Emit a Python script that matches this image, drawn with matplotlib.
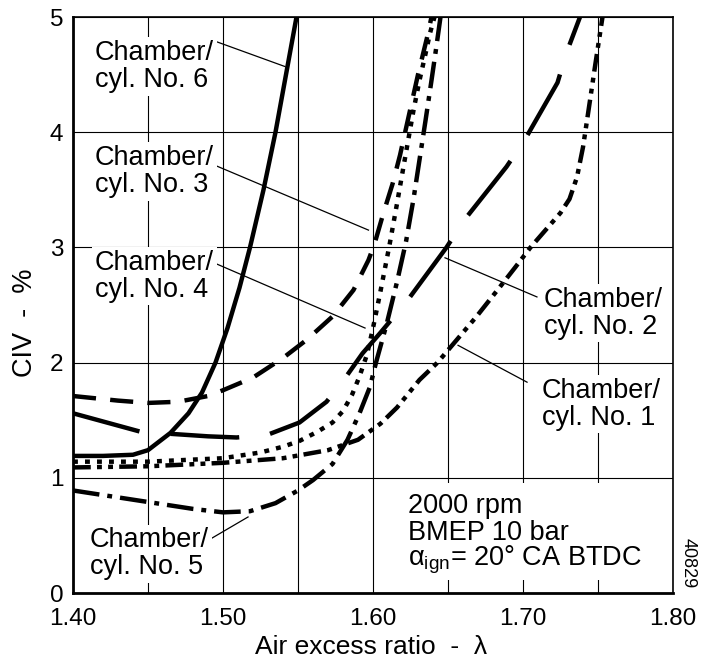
import matplotlib
matplotlib.use('Agg')
import matplotlib.pyplot as plt
from matplotlib.patches import Rectangle

plt.rcParams['font.family'] = ['Liberation Sans', 'DejaVu Sans']
plt.rcParams['mathtext.fontset'] = 'custom'
plt.rcParams['mathtext.rm'] = 'Liberation Sans'
plt.rcParams['mathtext.it'] = 'Liberation Sans:italic'

# data: air excess ratio (lambda) vs CIV (%)
lam6 = [1.40, 1.42, 1.44, 1.45, 1.465, 1.477, 1.486, 1.495, 1.503, 1.511, 1.518, 1.527, 1.535, 1.542, 1.549]
civ6 = [1.19, 1.19, 1.20, 1.24, 1.39, 1.56, 1.74, 2.00, 2.30, 2.65, 3.00, 3.50, 4.00, 4.50, 5.00]

lam3 = [1.40, 1.43, 1.45, 1.47, 1.49, 1.50, 1.52, 1.54, 1.556, 1.573, 1.587, 1.597, 1.601, 1.607, 1.613, 1.618, 1.624, 1.630, 1.636, 1.639]
civ3 = [1.71, 1.67, 1.65, 1.66, 1.71, 1.76, 1.87, 2.04, 2.20, 2.40, 2.63, 2.89, 3.03, 3.30, 3.55, 3.80, 4.15, 4.50, 4.82, 5.00]

lam4 = [1.40, 1.45, 1.50, 1.525, 1.54, 1.551, 1.563, 1.573, 1.580, 1.586, 1.591, 1.596, 1.600, 1.605, 1.611, 1.616, 1.621, 1.627, 1.631, 1.635, 1.638, 1.641]
civ4 = [1.14, 1.14, 1.17, 1.22, 1.27, 1.32, 1.40, 1.48, 1.58, 1.72, 1.88, 2.07, 2.30, 2.62, 3.02, 3.38, 3.75, 4.19, 4.45, 4.68, 4.86, 5.00]

lam2 = [1.40, 1.445, 1.467, 1.49, 1.509, 1.529, 1.551, 1.569, 1.58, 1.593, 1.605, 1.623, 1.649, 1.661, 1.689, 1.701, 1.723, 1.729, 1.738]
civ2 = [1.56, 1.40, 1.38, 1.36, 1.35, 1.37, 1.48, 1.66, 1.84, 2.08, 2.26, 2.54, 3.00, 3.24, 3.70, 3.93, 4.43, 4.69, 5.00]

lam1 = [1.40, 1.45, 1.50, 1.54, 1.57, 1.59, 1.605, 1.616, 1.631, 1.643, 1.656, 1.669, 1.683, 1.695, 1.705, 1.715, 1.725, 1.731, 1.736, 1.740, 1.743, 1.748, 1.753]
civ1 = [1.09, 1.10, 1.13, 1.17, 1.24, 1.33, 1.47, 1.61, 1.85, 2.00, 2.20, 2.40, 2.63, 2.83, 3.00, 3.15, 3.30, 3.42, 3.61, 3.87, 4.13, 4.57, 5.00]

lam5 = [1.40, 1.45, 1.48, 1.50, 1.518, 1.535, 1.55, 1.56, 1.573, 1.583, 1.591, 1.598, 1.602, 1.609, 1.616, 1.622, 1.627, 1.631, 1.635, 1.639, 1.642, 1.645]
civ5 = [0.89, 0.79, 0.73, 0.70, 0.71, 0.78, 0.89, 0.98, 1.12, 1.33, 1.56, 1.79, 2.00, 2.33, 2.70, 3.05, 3.42, 3.76, 4.10, 4.45, 4.72, 5.00]

xticks = [1.40, 1.50, 1.60, 1.70, 1.80]
xticklabels = ['1.40', '1.50', '1.60', '1.70', '1.80']
xminor = [1.45, 1.55, 1.65, 1.75]
yticks = [0, 1, 2, 3, 4, 5]

fig = plt.figure(figsize=(7.12, 6.63), dpi=100)
ax = fig.add_axes([73/712, 70/663, 600/712, 576/663])

ax.set_xlim(1.40, 1.80)
ax.set_ylim(0, 5)
ax.set_xticks(xticks)
ax.set_xticklabels(xticklabels)
ax.set_xticks(xminor, minor=True)
ax.set_yticks(yticks)
ax.set_axisbelow(True)
ax.grid(True, which='both', axis='x', color='black', lw=0.8)
ax.grid(True, which='major', axis='y', color='black', lw=0.8)
ax.tick_params(which='both', length=0)
ax.tick_params(axis='x', pad=10.5, labelsize=17.5)
ax.tick_params(axis='y', pad=7, labelsize=17.5)
for s in ['left', 'bottom']:
    ax.spines[s].set_linewidth(2.0)
for s in ['top', 'right']:
    ax.spines[s].set_linewidth(1.2)

lw = 3.2
ax.plot(lam6, civ6, color='black', lw=lw, linestyle='-', zorder=3)
ax.plot(lam3, civ3, color='black', lw=lw, linestyle=(0, (5.2, 3.2)), zorder=3)
ax.plot(lam4, civ4, color='black', lw=lw, linestyle=(0, (1.1, 1.6)), zorder=3)
ax.plot(lam2, civ2, color='black', lw=lw, linestyle=(0, (15.5, 7)), zorder=3)
ax.plot(lam1, civ1, color='black', lw=lw, linestyle=(0, (4, 1.4, 1.1, 1.4, 1.1, 1.4)), zorder=3)
ax.plot(lam5, civ5, color='black', lw=lw, linestyle=(0, (6, 1.8, 1.1, 1.8)), zorder=3)

# pointer lines
ax.plot([1.4947, 1.5413], [4.79, 4.57], color='black', lw=0.9, zorder=2.5)
ax.plot([1.4933, 1.597], [3.72, 3.15], color='black', lw=0.9, zorder=2.5)
ax.plot([1.4933, 1.5947], [2.87, 2.30], color='black', lw=0.9, zorder=2.5)
ax.plot([1.7093, 1.648], [2.57, 2.91], color='black', lw=0.9, zorder=2.5)
ax.plot([1.7027, 1.6567], [1.83, 2.15], color='black', lw=0.9, zorder=2.5)
ax.plot([1.4927, 1.5167], [0.477, 0.66], color='black', lw=0.9, zorder=2.5)

box = dict(facecolor='white', edgecolor='none', pad=2)
lab = dict(fontsize=19.5, ha='left', va='center', linespacing=1.05, bbox=box, zorder=4)
ax.text(1.4147, 4.57, 'Chamber/\ncyl. No. 6', **lab)
ax.text(1.4147, 3.66, 'Chamber/\ncyl. No. 3', **lab)
ax.text(1.4147, 2.75, 'Chamber/\ncyl. No. 4', **lab)
ax.text(1.4113, 0.34, 'Chamber/\ncyl. No. 5', **lab)
ax.text(1.7140, 2.43, 'Chamber/\ncyl. No. 2', **lab)
ax.text(1.7127, 1.64, 'Chamber/\ncyl. No. 1', **lab)

# conditions box
ax.add_patch(Rectangle((1.603, 0.11), 0.194, 0.845, facecolor='white', edgecolor='none', zorder=1.5))
ax.text(1.6233, 0.755, '2000 rpm', fontsize=19.5, ha='left', va='center', zorder=4)
ax.text(1.6233, 0.521, 'BMEP 10 bar', fontsize=19.5, ha='left', va='center', zorder=4)
ax.text(1.6233, 0.286, r'$\mathrm{\alpha_{ign}}$= 20° CA BTDC', fontsize=19.5, ha='left', va='center', zorder=4)

ax.text(1.0250, 0.052, '40829', transform=ax.transAxes, fontsize=13, rotation=-90,
        ha='center', va='center', clip_on=False)

ax.text(-0.08, 0.469, 'CIV  -  %', transform=ax.transAxes, fontsize=19.5, rotation=90,
        ha='center', va='center')
ax.text(0.497, -0.093, 'Air excess ratio  -  λ', transform=ax.transAxes, fontsize=19,
        ha='center', va='center')

fig.savefig('out.png', dpi=100)
